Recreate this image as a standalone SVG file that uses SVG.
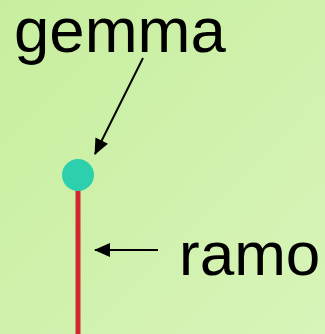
<svg xmlns="http://www.w3.org/2000/svg" width="325" height="334" viewBox="0 0 325 334">
<defs>
<linearGradient id="bg" x1="0" y1="0" x2="1" y2="1">
<stop offset="0" stop-color="#c7ee9e"/>
<stop offset="1" stop-color="#d8f4b9"/>
</linearGradient>
<marker id="ah2" markerWidth="16" markerHeight="14" refX="15" refY="7" orient="auto" markerUnits="userSpaceOnUse">
<path d="M0,0 L16,7 L0,14 z" fill="#000"/>
</marker>
</defs>
<style>
.lbl{font-family:"Liberation Sans",Arial,sans-serif;font-size:62px;fill:#000}
.conn{stroke:#000;stroke-width:2;fill:none}
</style>
<rect width="325" height="334" fill="url(#bg)"/>
<g id="ramo">
<line x1="78" y1="188" x2="78" y2="334" stroke="#d3262f" stroke-width="5"/>
</g>
<g id="gemma">
<circle cx="78" cy="175" r="16" fill="#2dd0ac"/>
</g>
<g id="label-gemma"><text class="lbl" x="14" y="52" style="font-size:63.5px">gemma</text></g>
<g id="label-ramo"><text class="lbl" x="179" y="275">ramo</text></g>
<g id="connectors">
<line class="conn" x1="143" y1="58" x2="95" y2="154" marker-end="url(#ah2)"/>
<line class="conn" x1="158" y1="250" x2="95" y2="250" marker-end="url(#ah2)"/>
</g>
</svg>
